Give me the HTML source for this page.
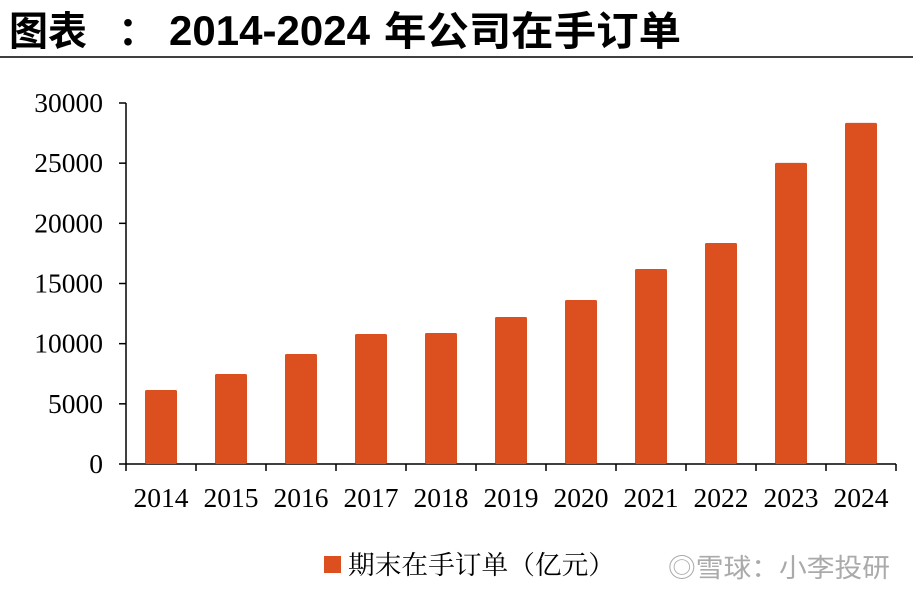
<!DOCTYPE html>
<html><head><meta charset="utf-8"><style>
body{margin:0;background:#fff;width:913px;height:595px;overflow:hidden;position:relative}
svg{position:absolute;left:0;top:0}
</style></head><body>
<svg width="913" height="595">
<g font-family="'Liberation Sans','Noto Sans CJK SC',sans-serif" font-weight="bold" fill="#000">
<text x="9" y="45" font-size="40" textLength="78" lengthAdjust="spacingAndGlyphs">图表</text>
<text x="118" y="45" font-size="40">：</text>
<text x="169" y="45" font-size="42" textLength="201" lengthAdjust="spacingAndGlyphs">2014-2024</text>
<text x="384" y="45" font-size="40" textLength="297" lengthAdjust="spacingAndGlyphs">年公司在手订单</text>
</g>
<line x1="0" y1="57" x2="913" y2="57" stroke="#000" stroke-width="1.5"/>
<g id="plot"></g>
<rect x="324" y="556" width="17" height="17" fill="#DC4F1E"/>
<text x="348" y="574" font-family="'Liberation Serif','Noto Serif CJK SC',serif" font-size="26" textLength="267" lengthAdjust="spacingAndGlyphs" fill="#000">期末在手订单（亿元）</text>
<text x="668" y="577" font-family="'Liberation Sans','Noto Sans CJK SC',sans-serif" font-size="26" textLength="222" lengthAdjust="spacingAndGlyphs" fill="#aaa">◎雪球：小李投研</text>
</svg>
<script>
const categories=["2014","2015","2016","2017","2018","2019","2020","2021","2022","2023","2024"];
const values=[6150,7480,9140,10800,10890,12220,13630,16210,18370,25020,28350];
const yTicks=[0,5000,10000,15000,20000,25000,30000];
const NS="http://www.w3.org/2000/svg";
const g=document.getElementById('plot');
const x0=126,step=70,y0=464,yTop=103,yMax=30000;
const y=v=>y0-(v/yMax)*(y0-yTop);
const xc=i=>x0+step*(i+0.5);
function mk(t,a){const e=document.createElementNS(NS,t);for(const k in a)e.setAttribute(k,a[k]);g.appendChild(e);return e;}
const ax=mk('line',{x1:x0,y1:yTop,x2:x0,y2:y0,stroke:'#000','stroke-width':1.5});


yTicks.forEach(v=>{
 const t=mk('line',{x1:x0-7,y1:y(v),x2:x0,y2:y(v),stroke:'#000','stroke-width':1.5});
 
 
 const l=mk('text',{x:103,y:y(v)+9,'text-anchor':'end','font-family':"'Liberation Serif',serif",'font-size':27.5});
 l.textContent=v;
 
 
});
const xa=mk('line',{x1:x0,y1:y0,x2:x0+step*categories.length,y2:y0,stroke:'#000','stroke-width':1.5});


for(let i=0;i<=categories.length;i++){
 const t=mk('line',{x1:x0+step*i,y1:y0,x2:x0+step*i,y2:y0+7,stroke:'#000','stroke-width':1.5});
 
 
}
categories.forEach((c,i)=>{
 const b=mk('rect',{x:xc(i)-16,y:y(values[i]),width:32,height:y0-y(values[i]),fill:'#DC4F1E',rx:1.5});
 
 
 const l=mk('text',{x:xc(i),y:507,'text-anchor':'middle','font-family':"'Liberation Serif',serif",'font-size':27.5});
 l.textContent=c;
 
 
});
</script>
</body></html>
